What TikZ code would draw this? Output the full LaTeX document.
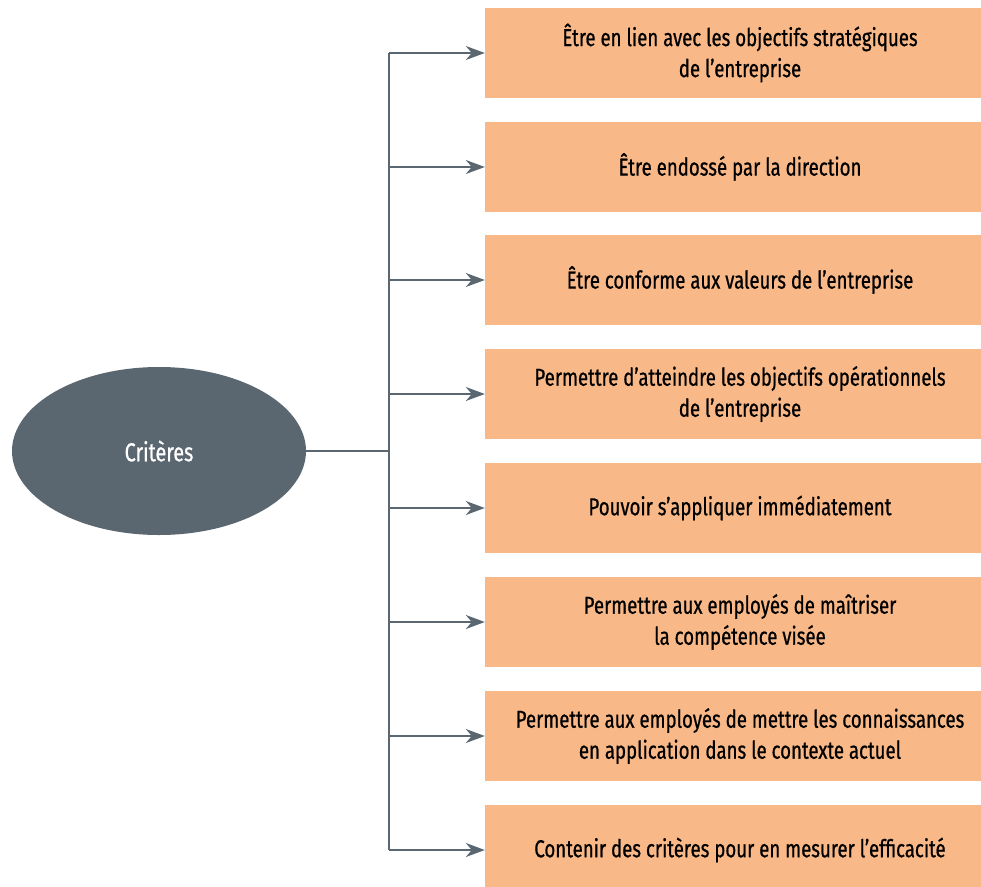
\documentclass[tikz,border=0pt]{standalone}
\usepackage{fontspec}
\setmainfont{Fira Sans}[FakeStretch=0.76,FakeBold=0.7]
\usetikzlibrary{arrows.meta,shapes.geometric}
\definecolor{slate}{HTML}{5B6770}
\definecolor{peach}{HTML}{F9B887}
\begin{document}
\begin{tikzpicture}[x=1pt,y=-1pt,
  box/.style={fill=peach, minimum width=510pt, minimum height=90pt, inner sep=0pt, align=center, text=black, font=\fontsize{24.5}{31}\selectfont},
  conn/.style={draw=slate, line width=1.3pt},
  tip/.style={-{Stealth[length=19pt,width=14pt,inset=6pt]}}]
\useasboundingbox (0,0) rectangle (981,886);
\node[ellipse, fill=slate, minimum width=294pt, minimum height=168pt, inner sep=0pt, text=white, font=\fontsize{26}{30}\selectfont] (c) at (159,451) {Critères};
\coordinate (hub) at (389,451);
\node[box] (b1) at (740,53) {Être en lien avec les objectifs stratégiques\\de l’entreprise};
\node[box] (b2) at (740,167) {Être endossé par la direction};
\node[box] (b3) at (740,280) {Être conforme aux valeurs de l’entreprise};
\node[box] (b4) at (740,394) {Permettre d’atteindre les objectifs opérationnels\\de l’entreprise};
\node[box] (b5) at (740,508) {Pouvoir s’appliquer immédiatement};
\node[box] (b6) at (740,622) {Permettre aux employés de maîtriser\\la compétence visée};
\node[box] (b7) at (740,736) {Permettre aux employés de mettre les connaissances\\en application dans le contexte actuel};
\node[box] (b8) at (740,850) {Contenir des critères pour en mesurer l’efficacité};
\draw[conn] (c.east) -- (hub);
\draw[conn] (hub |- b1.west) -- (hub |- b8.west);
\foreach \i in {1,...,8} {\draw[conn,tip] (hub |- b\i.west) -- (b\i.west);}
\end{tikzpicture}
\end{document}
